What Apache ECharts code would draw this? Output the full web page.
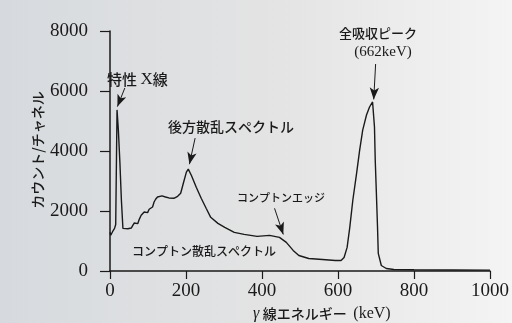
<!DOCTYPE html>
<html>
<head>
<meta charset="utf-8">
<script src="https://cdn.jsdelivr.net/npm/echarts@6/dist/echarts.min.js"></script>
<style>html,body{margin:0;padding:0;}#c{width:512px;height:323px;}</style>
</head>
<body>
<div id="c"></div>
<script>
// γ-ray spectrum (keV vs counts per channel)
const energy = [0, 2, 5, 8, 12, 15, 18.5, 22, 26, 30, 34, 39, 47, 56, 60, 64, 69, 73, 77, 82, 86, 90, 95, 99, 103, 107, 112, 116, 120, 125, 129, 137, 146, 155, 168, 178, 186, 193, 201, 206, 214, 227, 240, 253, 265, 284, 302, 327, 353, 387, 420, 446, 464, 482, 497, 523, 559, 593, 608, 616, 624, 631, 639, 649, 657, 665, 675, 683, 691, 696, 698, 701, 704, 706, 714, 727, 747, 800, 900, 1000];
const counts = [1290, 1190, 1240, 1340, 1420, 1550, 5370, 4700, 3630, 2360, 1420, 1354, 1410, 1432, 1522, 1600, 1655, 1578, 1722, 1856, 1912, 1966, 1990, 1946, 2057, 2023, 2134, 2300, 2391, 2468, 2525, 2502, 2468, 2435, 2424, 2491, 2592, 2926, 3294, 3394, 3193, 2792, 2424, 2090, 1789, 1588, 1455, 1287, 1221, 1154, 1187, 1120, 953, 686, 518, 418, 385, 351, 351, 451, 786, 1455, 2358, 3260, 4029, 4698, 5200, 5467, 5635, 4799, 3695, 2592, 1455, 585, 184, 84, 50, 40, 35, 30];
const xTicks = [0, 200, 400, 600, 800, 1000];
const yTicks = [0, 2000, 4000, 6000, 8000];
// annotation arrows: [fromEnergy, fromCount, toEnergy, toCount]
const arrows = [
  [39, 6100, 19.5, 5480],
  [224, 4430, 209, 3560],
  [433, 2090, 456, 1220],
  [699, 6900, 694, 5720]
];
const labels = ['特性', 'X', '線', '後方散乱スペクトル', 'コンプトンエッジ', 'コンプトン散乱スペクトル', '全吸収ピーク', '(662keV)'];
const axisNames = ['カウント/チャネル', 'γ', '線エネルギー', '(keV)'];

const CJK = '"Noto Sans CJK JP", "Noto Sans", sans-serif';
const SERIF = '"Liberation Serif", "DejaVu Serif", serif';
const INK = '#1a1a1a';

const chart = echarts.init(document.getElementById('c'), null, {renderer: 'canvas'});
const option = {
  animation: false,
  backgroundColor: {
    type: 'linear', x: 0, y: 0, x2: 1, y2: 0,
    colorStops: [
      {offset: 0, color: '#d6dade'},
      {offset: 0.55, color: '#e4e4e4'},
      {offset: 1, color: '#f4f4f4'}
    ]
  },
  grid: {left: 110, right: 14, top: 31, bottom: 52},
  xAxis: {
    type: 'value', min: xTicks[0], max: xTicks[xTicks.length - 1], interval: 200,
    axisLine: {lineStyle: {color: INK, width: 1.5}},
    axisTick: {show: true, length: 8, lineStyle: {color: INK, width: 1.2}},
    axisLabel: {color: INK, fontFamily: SERIF, fontSize: 19, margin: 11, formatter: v => String(v)},
    splitLine: {show: false}
  },
  yAxis: {
    type: 'value', min: yTicks[0], max: yTicks[yTicks.length - 1], interval: 2000,
    axisLine: {show: true, lineStyle: {color: INK, width: 1.5}},
    axisTick: {show: true, length: 10, lineStyle: {color: INK, width: 1.2}},
    axisLabel: {color: INK, fontFamily: SERIF, fontSize: 19, margin: 22, formatter: v => String(v)},
    splitLine: {show: false}
  },
  series: [{
    type: 'line',
    data: energy.map((e, i) => [e, counts[i]]),
    showSymbol: false,
    symbol: 'none',
    lineStyle: {color: INK, width: 1.4},
    silent: true,
    markLine: {
      silent: true,
      symbol: ['none', 'arrow'],
      symbolSize: [7, 12],
      label: {show: false},
      lineStyle: {color: INK, width: 1, type: 'solid'},
      emphasis: {disabled: true},
      data: arrows.map(a => [{coord: [a[0], a[1]]}, {coord: [a[2], a[3]]}])
    }
  }],
  graphic: [
    {type: 'text', left: 107, top: 71, style: {
      text: '{c|' + labels[0] + ' }{x|' + labels[1] + '}{c|' + labels[2] + '}',
      rich: {
        c: {fontFamily: CJK, fontSize: 15, fill: INK, fontWeight: 500},
        x: {fontFamily: SERIF, fontSize: 17, fill: INK}
      }
    }},
    {type: 'text', x: 168, y: 127, style: {text: labels[3], font: '500 14px ' + CJK, fill: INK, textVerticalAlign: 'middle'}},
    {type: 'text', x: 237, y: 198, style: {text: labels[4], font: '500 11px ' + CJK, fill: INK, textVerticalAlign: 'middle'}},
    {type: 'text', x: 132, y: 251, style: {text: labels[5], font: '500 12px ' + CJK, fill: INK, textVerticalAlign: 'middle'}},
    {type: 'text', x: 378, y: 33, style: {text: labels[6], font: '500 13px ' + CJK, fill: INK, textAlign: 'center', textVerticalAlign: 'middle'}},
    {type: 'text', x: 383, y: 52, style: {text: labels[7], font: '15px ' + SERIF, fill: INK, textAlign: 'center', textVerticalAlign: 'middle'}},
    {type: 'text', x: 38, y: 150, rotation: Math.PI / 2, style: {text: axisNames[0], font: '500 14px ' + CJK, fill: INK, textAlign: 'center', textVerticalAlign: 'middle'}},
    {type: 'text', left: 253, top: 306, style: {
      text: '{g|' + axisNames[1] + '} {c|' + axisNames[2] + '}  {k|' + axisNames[3] + '}',
      rich: {
        g: {fontFamily: SERIF, fontStyle: 'italic', fontSize: 16, fill: INK},
        c: {fontFamily: CJK, fontSize: 14, fill: INK, fontWeight: 500},
        k: {fontFamily: SERIF, fontSize: 16, fill: INK}
      }
    }}
  ]
};
chart.setOption(option);
</script>
</body>
</html>
